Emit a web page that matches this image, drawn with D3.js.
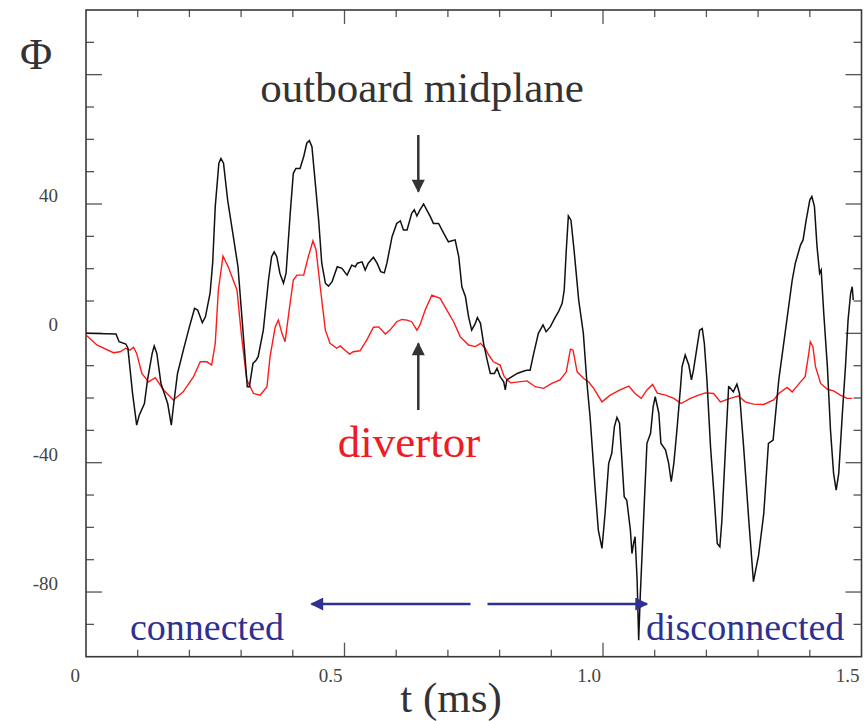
<!DOCTYPE html>
<html>
<head>
<meta charset="utf-8">
<script src="https://cdn.jsdelivr.net/npm/d3@7"></script>
<style>
	body { margin: 0; background: white; }
	svg { display: block; }
</style>
</head>
<body>
<svg id="chart" width="864" height="721"></svg>
<script>

// outboard midplane probe (black), time in ms
var midplaneTime = [0, 0.058, 0.064, 0.077, 0.081, 0.090, 0.098, 0.103, 0.113, 0.119, 0.128, 0.132, 0.137, 0.145, 0.158, 0.165, 0.169, 0.177, 0.190, 0.200,
	0.210, 0.216, 0.225, 0.231, 0.240, 0.245, 0.250, 0.257, 0.261, 0.266, 0.274, 0.284, 0.294, 0.300, 0.306, 0.312, 0.316, 0.323, 0.329, 0.333,
	0.343, 0.353, 0.359, 0.364, 0.369, 0.375, 0.382, 0.387, 0.395, 0.401, 0.406, 0.414, 0.421, 0.427, 0.432, 0.437, 0.443, 0.450, 0.456, 0.463,
	0.469, 0.476, 0.486, 0.495, 0.505, 0.514, 0.521, 0.525, 0.534, 0.540, 0.546, 0.556, 0.563, 0.570, 0.577, 0.582, 0.592, 0.601, 0.608, 0.614,
	0.621, 0.630, 0.635, 0.640, 0.646, 0.653, 0.659, 0.666, 0.672, 0.682, 0.692, 0.701, 0.714, 0.721, 0.727, 0.734, 0.740, 0.746, 0.753, 0.757,
	0.763, 0.769, 0.776, 0.782, 0.790, 0.795, 0.801, 0.808, 0.811, 0.814, 0.824, 0.834, 0.843, 0.852, 0.859, 0.866, 0.875, 0.884, 0.890, 0.898,
	0.908, 0.914, 0.921, 0.925, 0.929, 0.933, 0.938, 0.944, 0.953, 0.962, 0.969, 0.975, 0.985, 0.991, 0.998, 1.004, 1.011, 1.017, 1.022, 1.027,
	1.032, 1.037, 1.041, 1.046, 1.053, 1.056, 1.059, 1.062, 1.066, 1.069, 1.072, 1.079, 1.085, 1.092, 1.097, 1.101, 1.108, 1.112, 1.121, 1.127,
	1.132, 1.137, 1.143, 1.150, 1.153, 1.159, 1.166, 1.171, 1.175, 1.182, 1.187, 1.192, 1.196, 1.201, 1.208, 1.215, 1.221, 1.226, 1.230, 1.237,
	1.243, 1.245, 1.252, 1.259, 1.264, 1.272, 1.282, 1.291, 1.301, 1.311, 1.320, 1.329, 1.340, 1.353, 1.366, 1.372, 1.382, 1.387, 1.393, 1.400,
	1.404, 1.409, 1.414, 1.419, 1.422, 1.427, 1.434, 1.440, 1.446, 1.451, 1.456, 1.463, 1.469, 1.474, 1.479, 1.482, 1.484];

var midplanePhi = [0, -0.2, -2.6, -3.3, -4.5, -18.5, -28.4, -25.3, -21.7, -14.4, -6.2, -3.9, -6.2, -15.5, -21.7, -28.4, -22.7, -12.4, -4.1, 2.0,
	7.7, 7.2, 3.3, 5.1, 12.4, 21.7, 39.2, 52.6, 54.1, 52.6, 41.2, 30.9, 20.6, 8.2, -4.1, -16.5, -16.5, -9.3, -8.3, -7.2,
	1.0, 16.5, 23.7, 25.2, 23.7, 18.6, 15.5, 18.6, 37.1, 49.5, 51.0, 51.0, 54.6, 58.8, 59.6, 57.7, 47.4, 35.0, 21.7, 15.5,
	14.6, 16.0, 20.6, 20.1, 18.0, 21.1, 20.6, 21.7, 22.1, 19.6, 21.7, 23.5, 21.7, 19.1, 18.7, 21.7, 29.9, 34.0, 34.8, 32.0,
	32.0, 37.1, 38.2, 36.3, 38.2, 40.0, 38.2, 36.1, 34.0, 34.0, 30.9, 28.3, 28.9, 23.7, 14.4, 11.3, 5.1, 1.0, 3.1, 4.9,
	3.1, -3.1, -8.3, -12.4, -12.4, -10.8, -13.4, -15.0, -17.5, -14.4, -13.4, -12.4, -11.9, -11.4, -11.4, -6.2, 0, 2.6, 0.5, 2.0,
	5.1, 6.7, 9.3, 13.4, 25.8, 36.3, 35.0, 25.8, 10.3, 0, -15.5, -25.8, -48.5, -60.9, -66.5, -55.7, -40.2, -37.1, -28.9, -26.0,
	-27.8, -40.2, -50.5, -51.6, -60.9, -68.1, -65.0, -62.9, -76.3, -94.9, -81.5, -55.7, -34.0, -30.9, -22.7, -19.6, -24.7, -34.0, -36.1, -40.2,
	-45.9, -40.2, -29.9, -16.5, -10.3, -6.7, -9.8, -14.4, -11.4, -4.1, 1.0, 1.5, -3.1, -14.4, -35.1, -50.5, -65.0, -66.0, -57.8, -35.1,
	-16.5, -16.7, -18.1, -15.7, -18.6, -35.1, -57.8, -76.8, -68.6, -55.7, -34.0, -33.0, -14.4, 1.0, 16.5, 21.7, 27.3, 28.9, 35.0, 41.2,
	42.3, 39.2, 26.8, 18.6, 19.6, 6.2, -10.3, -29.9, -43.3, -48.5, -43.3, -24.7, -10.3, 4.1, 12.4, 14.4, 10.3];

// divertor probe (red)
var divertorTime = [0, 0.021, 0.053, 0.066, 0.077, 0.085, 0.092, 0.098, 0.108, 0.121, 0.134, 0.150, 0.169, 0.188, 0.208, 0.221, 0.234, 0.243, 0.250, 0.256,
	0.265, 0.275, 0.292, 0.301, 0.311, 0.324, 0.337, 0.350, 0.356, 0.366, 0.372, 0.379, 0.385, 0.393, 0.401, 0.408, 0.421, 0.430, 0.439, 0.445,
	0.453, 0.463, 0.472, 0.485, 0.492, 0.501, 0.510, 0.517, 0.530, 0.543, 0.556, 0.566, 0.579, 0.588, 0.601, 0.611, 0.621, 0.630, 0.640, 0.646,
	0.656, 0.669, 0.685, 0.698, 0.711, 0.724, 0.740, 0.753, 0.763, 0.772, 0.779, 0.788, 0.801, 0.809, 0.821, 0.837, 0.853, 0.869, 0.885, 0.901,
	0.917, 0.929, 0.937, 0.942, 0.950, 0.962, 0.972, 0.982, 0.998, 1.014, 1.033, 1.050, 1.062, 1.074, 1.085, 1.096, 1.105, 1.121, 1.137, 1.151,
	1.169, 1.185, 1.198, 1.214, 1.227, 1.246, 1.262, 1.275, 1.291, 1.311, 1.330, 1.340, 1.356, 1.366, 1.382, 1.391, 1.398, 1.401, 1.406, 1.411,
	1.421, 1.434, 1.446, 1.459, 1.472, 1.482];

var divertorPhi = [-0.5, -3.6, -6.0, -5.7, -4.6, -5.2, -4.3, -6.2, -12.4, -15.0, -13.7, -17.5, -20.6, -18.1, -13.4, -8.8, -8.8, -9.8, -3.1, 13.4,
	23.9, 20.6, 13.4, -1.1, -14.4, -18.6, -19.1, -16.5, -7.2, 2.0, 4.1, 0, -2.6, 7.2, 16.5, 18.0, 18.0, 23.7, 28.6, 25.8,
	14.4, 1.0, -3.1, -4.6, -3.9, -5.2, -6.4, -5.7, -5.4, -2.1, 1.9, 2.0, -0.2, 1.0, 3.6, 4.3, 4.1, 3.6, 1.0, 2.6,
	7.2, 11.8, 10.8, 7.2, 3.6, -1.1, -3.6, -4.1, -3.1, -4.6, -6.7, -8.8, -9.8, -13.4, -15.3, -15.0, -14.7, -16.5, -17.0, -15.5,
	-14.4, -11.9, -4.9, -5.2, -11.9, -13.9, -15.0, -17.0, -21.2, -19.1, -17.5, -16.3, -18.6, -20.1, -17.5, -15.8, -18.5, -19.1, -20.1, -21.7,
	-20.1, -19.1, -18.4, -18.6, -21.2, -20.1, -19.4, -21.2, -21.9, -22.0, -20.6, -18.6, -16.7, -18.1, -15.0, -13.4, -6.2, -2.6, -4.1, -10.3,
	-15.5, -17.3, -17.8, -19.1, -20.1, -20.1];

var xTickLabels = ["0", "0.5", "1.0", "1.5"];
var xTickValues = [0, 0.5, 1.0, 1.5];
var yTickLabels = ["40", "0", "-40", "-80"];
var yTickValues = [40, 0, -40, -80];

function renderProbeChart(element) {

	var svg = d3.select(element);

	var left = 86, right = 861.5, top = 10, bottom = 656.7;

	var x = d3.scaleLinear().domain([0, 1.5]).range([left, right]);
	var y = d3.scaleLinear().domain([-100, 100]).range([bottom, top]);

	var axisColor = "#3a3a3a";
	var labelFont = "'Liberation Serif', 'Times New Roman', serif";

	function addFrame() {

		// minor ticks every 0.1 ms / 10 units, major every 0.5 ms / 40 units
		var xMinor = d3.range(1, 15).map(d => d / 10);
		var yMinor = d3.range(-90, 100, 10);

		var ticks = svg.append("g")
			.attr("stroke", "#555")
			.attr("stroke-width", 1.3);

		xMinor.forEach(function(t) {
			var isMajor = Math.abs(t * 2 - Math.round(t * 2)) < 1e-6;
			var len = isMajor ? 14 : 7;
			ticks.append("line")
				.attr("x1", x(t)).attr("x2", x(t))
				.attr("y1", bottom).attr("y2", bottom - len);
			ticks.append("line")
				.attr("x1", x(t)).attr("x2", x(t))
				.attr("y1", top).attr("y2", top + len);
		});

		yMinor.forEach(function(v) {
			var isMajor = v % 40 === 0;
			var len = isMajor ? 16 : 8;
			ticks.append("line")
				.attr("x1", left).attr("x2", left + len)
				.attr("y1", y(v)).attr("y2", y(v));
			ticks.append("line")
				.attr("x1", right).attr("x2", right - len)
				.attr("y1", y(v)).attr("y2", y(v));
		});

		svg.append("rect")
			.attr("x", left)
			.attr("y", top)
			.attr("width", right - left)
			.attr("height", bottom - top)
			.attr("fill", "none")
			.attr("stroke", axisColor)
			.attr("stroke-width", 1.6);

		//tick labels sit just left of their tick, as in the original
		svg.selectAll("text.xlab")
			.data(xTickValues)
			.enter()
			.append("text")
			.attr("class", "xlab")
			.attr("x", (d, i) => x(d) - (i === 0 ? 6 : 2))
			.attr("y", 682)
			.attr("text-anchor", "end")
			.attr("font-family", labelFont)
			.attr("font-size", "19px")
			.attr("fill", "#444")
			.text((_, i) => xTickLabels[i]);

		svg.selectAll("text.ylab")
			.data(yTickValues)
			.enter()
			.append("text")
			.attr("class", "ylab")
			.attr("x", 58)
			.attr("y", d => y(d) - 2)
			.attr("text-anchor", "end")
			.attr("font-family", labelFont)
			.attr("font-size", "19px")
			.attr("fill", "#444")
			.text((_, i) => yTickLabels[i]);

		svg.append("text")
			.attr("x", 451)
			.attr("y", 712)
			.attr("text-anchor", "middle")
			.attr("font-family", labelFont)
			.attr("font-size", "43px")
			.attr("fill", "#333")
			.text("t (ms)");

		svg.append("text")
			.attr("x", 36)
			.attr("y", 69)
			.attr("text-anchor", "middle")
			.attr("font-family", labelFont)
			.attr("font-size", "44px")
			.attr("fill", "#333")
			.text("Φ");

	}

	function addLines() {

		var line = d3.line()
			.x(d => x(d[0]))
			.y(d => y(d[1]));

		var divertor = d3.zip(divertorTime, divertorPhi);
		var midplane = d3.zip(midplaneTime, midplanePhi);

		svg.append("path")
			.attr("d", line(divertor))
			.attr("fill", "none")
			.attr("stroke", "#ff1a1a")
			.attr("stroke-width", 1.4);

		svg.append("path")
			.attr("d", line(midplane))
			.attr("fill", "none")
			.attr("stroke", "#111")
			.attr("stroke-width", 1.5);

	}

	function addAnnotations() {

		var defs = svg.append("defs");

		[["headGrey", "#333"], ["headBlue", "#2e3192"]].forEach(function(m) {
			defs.append("marker")
				.attr("id", m[0])
				.attr("viewBox", "0 0 10 10")
				.attr("refX", 9)
				.attr("refY", 5)
				.attr("markerUnits", "userSpaceOnUse")
				.attr("markerWidth", 14)
				.attr("markerHeight", 13)
				.attr("orient", "auto")
				.append("path")
				.attr("d", "M0,0 L10,5 L0,10 Z")
				.attr("fill", m[1]);
		});

		svg.append("text")
			.attr("x", 422)
			.attr("y", 102)
			.attr("text-anchor", "middle")
			.attr("font-family", labelFont)
			.attr("font-size", "43px")
			.attr("fill", "#333")
			.text("outboard midplane");

		svg.append("text")
			.attr("x", 409)
			.attr("y", 457)
			.attr("text-anchor", "middle")
			.attr("font-family", labelFont)
			.attr("font-size", "45px")
			.attr("fill", "#ee1c24")
			.text("divertor");

		svg.append("text")
			.attr("x", 130)
			.attr("y", 640)
			.attr("font-family", labelFont)
			.attr("font-size", "38px")
			.attr("fill", "#2e3192")
			.text("connected");

		svg.append("text")
			.attr("x", 646)
			.attr("y", 640)
			.attr("font-family", labelFont)
			.attr("font-size", "38px")
			.attr("fill", "#2e3192")
			.text("disconnected");

		var arrows = [
			[418.3, 135, 418.3, 191.5, "#333", "headGrey"],
			[418.3, 410, 418.3, 343.5, "#333", "headGrey"],
			[470.5, 604, 311.5, 604, "#2e3192", "headBlue"],
			[487.5, 604, 647, 604, "#2e3192", "headBlue"]
		];

		svg.selectAll("line.arrow")
			.data(arrows)
			.enter()
			.append("line")
			.attr("class", "arrow")
			.attr("x1", d => d[0])
			.attr("y1", d => d[1])
			.attr("x2", d => d[2])
			.attr("y2", d => d[3])
			.attr("stroke", d => d[4])
			.attr("stroke-width", 2.5)
			.attr("marker-end", d => "url(#" + d[5] + ")");

	}

	addFrame();
	addLines();
	addAnnotations();

}

renderProbeChart("#chart");

</script>
</body>
</html>
